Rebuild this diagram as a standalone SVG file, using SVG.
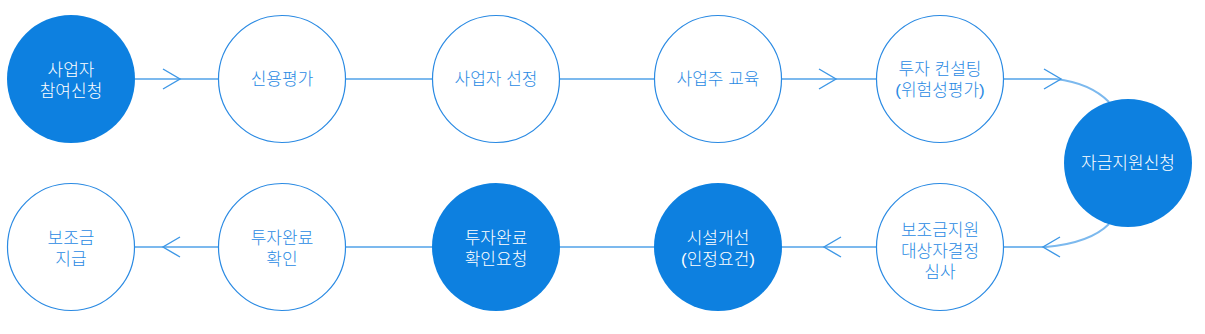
<svg xmlns="http://www.w3.org/2000/svg" xmlns:xlink="http://www.w3.org/1999/xlink" width="1205" height="334" viewBox="0 0 1205 334">
<style>
.line{fill:none;stroke:#7cb9ee;stroke-width:2}
.chev{fill:none;stroke:#3d97e6;stroke-width:1.4}
.n{fill:#ffffff;stroke:#2a8ae3;stroke-width:1.2}
.f{fill:#0d80e0;stroke:none}
text{font-family:"Liberation Sans","Noto Sans CJK KR",sans-serif;font-size:17px;font-weight:300;text-anchor:middle}
.tw{fill:#ffffff}
.tb{fill:#2a8ae3}
</style>
<defs>
<path id="chev" d="M-17,-10 L0,0 L-17,10"/>
</defs>
<rect width="1205" height="334" fill="#ffffff"/>
<g id="connectors">
<path class="line" d="M135,79 L1056,79 Q1090,83 1109,102"/>
<path class="line" d="M1109,224 Q1090,243 1046,247 L135,247"/>
<use href="#chev" class="chev" transform="translate(180,79)"/>
<use href="#chev" class="chev" transform="translate(836,79)"/>
<use href="#chev" class="chev" transform="translate(1061,79)"/>
<use href="#chev" class="chev" transform="translate(1043,247) scale(-1,1)"/>
<use href="#chev" class="chev" transform="translate(824,247) scale(-1,1)"/>
<use href="#chev" class="chev" transform="translate(163,247) scale(-1,1)"/>
</g>
<g id="n1"><circle class="f" cx="71" cy="79" r="64"/><text class="tw"><tspan x="71" y="76">사업자</tspan><tspan x="71" y="97">참여신청</tspan></text></g>
<g id="n2"><circle class="n" cx="282" cy="79" r="63.5"/><text class="tb" x="282" y="85">신용평가</text></g>
<g id="n3"><circle class="n" cx="496" cy="79" r="63.5"/><text class="tb" x="496" y="85">사업자 선정</text></g>
<g id="n4"><circle class="n" cx="718" cy="79" r="63.5"/><text class="tb" x="718" y="85">사업주 교육</text></g>
<g id="n5"><circle class="n" cx="940" cy="79" r="63.5"/><text class="tb"><tspan x="940" y="75">투자 컨설팅</tspan><tspan x="940" y="96">(위험성평가)</tspan></text></g>
<g id="n6"><circle class="f" cx="1128" cy="163" r="64"/><text class="tw" x="1128" y="169">자금지원신청</text></g>
<g id="n7"><circle class="n" cx="940" cy="247" r="63.5"/><text class="tb"><tspan x="940" y="236">보조금지원</tspan><tspan x="940" y="257">대상자결정</tspan><tspan x="940" y="278">심사</tspan></text></g>
<g id="n8"><circle class="f" cx="718" cy="247" r="64"/><text class="tw"><tspan x="718" y="244">시설개선</tspan><tspan x="718" y="265">(인정요건)</tspan></text></g>
<g id="n9"><circle class="f" cx="496" cy="247" r="64"/><text class="tw"><tspan x="496" y="244">투자완료</tspan><tspan x="496" y="265">확인요청</tspan></text></g>
<g id="n10"><circle class="n" cx="282" cy="247" r="63.5"/><text class="tb"><tspan x="282" y="244">투자완료</tspan><tspan x="282" y="265">확인</tspan></text></g>
<g id="n11"><circle class="n" cx="71" cy="247" r="63.5"/><text class="tb"><tspan x="71" y="244">보조금</tspan><tspan x="71" y="265">지급</tspan></text></g>
</svg>
